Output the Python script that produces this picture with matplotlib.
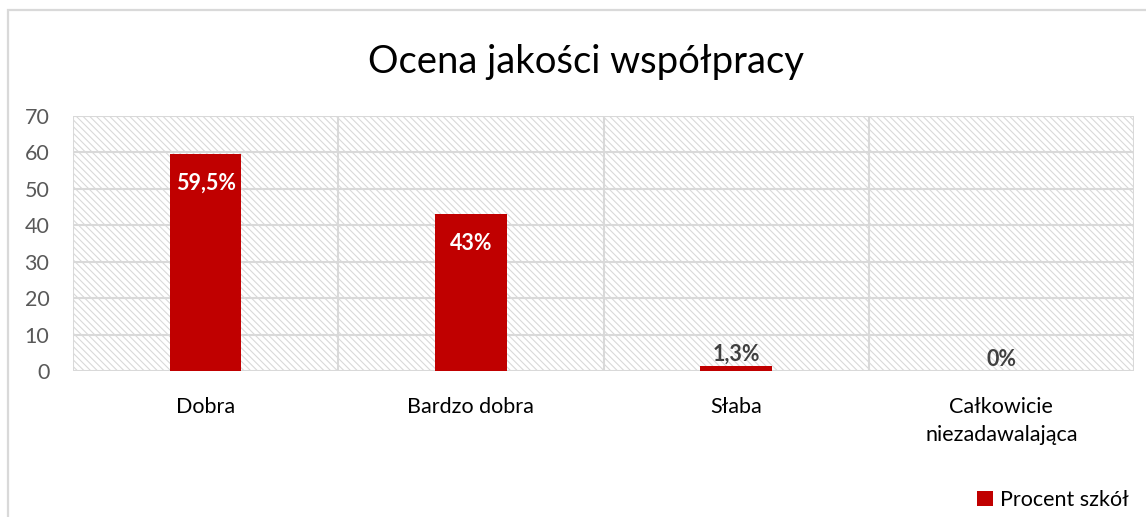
import numpy as np
import matplotlib
matplotlib.use("Agg")
import matplotlib.pyplot as plt
from matplotlib.patches import Rectangle

plt.rcParams["font.family"] = ["Lato", "DejaVu Sans"]
plt.rcParams["hatch.color"] = "#d9d9d9"
plt.rcParams["hatch.linewidth"] = 0.8

# data
categories = ["Dobra", "Bardzo dobra", "Słaba", "Całkowicie\nniezadawalająca"]
values = [59.5, 43.0, 1.3, 0.0]
value_labels = ["59,5%", "43%", "1,3%", "0%"]
y_ticks = [0, 10, 20, 30, 40, 50, 60, 70]
title = "Ocena jakości współpracy"
series_name = "Procent szkół"

bar_color = "#C00000"
grid_color = "#d9d9d9"

fig = plt.figure(figsize=(11.46, 5.17), dpi=100)

# outer chart frame (cut off on right/bottom like a screenshot)
fig.patches.append(Rectangle((8 / 1146, -0.1), 1.2, 0.1 + 507 / 517,
                             transform=fig.transFigure, fill=False,
                             edgecolor=grid_color, linewidth=1.6))

ax = fig.add_axes([73 / 1146, 1 - 371 / 517, (1134 - 73) / 1146, (371 - 116) / 517])

x = np.arange(len(categories))
ax.set_xlim(-0.5, len(categories) - 0.5)
ax.set_ylim(0, 70)

# hatched background
ax.add_patch(Rectangle((0, 0), 1, 1, transform=ax.transAxes, facecolor="white",
                       edgecolor=grid_color, hatch="\\\\\\\\\\", linewidth=0, zorder=0))

for yv in y_ticks:
    ax.axhline(yv, color=grid_color, linewidth=1.5, zorder=1)
for xv in np.arange(-0.5, len(categories), 1.0):
    ax.axvline(xv, color=grid_color, linewidth=1.5, zorder=1)

bars = ax.bar(x, values, width=0.27, color=bar_color, zorder=2, label=series_name)

for i, v in enumerate(values):
    if v > 10:
        ax.annotate(value_labels[i], (x[i], v), xytext=(0, -29), textcoords="offset pixels",
                    ha="center", va="center", fontsize=15.5, fontweight="bold", color="white", zorder=3)
    else:
        ax.annotate(value_labels[i], (x[i], v), xytext=(0, 12), textcoords="offset pixels",
                    ha="center", va="center", fontsize=15.5, fontweight="bold", color="#404040", zorder=3)

ax.set_yticks(y_ticks)
ax.set_xticks(x)
ax.set_xticklabels(categories, fontsize=15.5, color="black", linespacing=1.5)
ax.tick_params(axis="y", labelsize=15.5, labelcolor="#595959", length=0, pad=17)
ax.tick_params(axis="x", length=0, pad=19)
for s in ax.spines.values():
    s.set_visible(False)

fig.text(0.511, 1 - 62 / 517, title, ha="center", va="center", fontsize=27.5, color="black")

fig.legend(handles=[bars], labels=[series_name], loc="center right",
           bbox_to_anchor=(1148 / 1146, 1 - 500 / 517), frameon=False, fontsize=15.5,
           handlelength=0.75, handleheight=0.75, handletextpad=0.3)

fig.savefig("out.png", dpi=100)
